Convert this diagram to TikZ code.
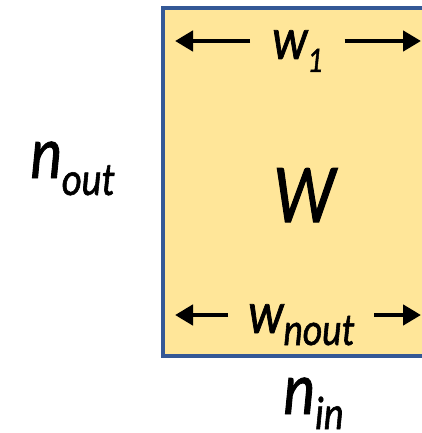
\documentclass[tikz,border=0pt]{standalone}
\usepackage{fontspec}
\setmainfont{Carlito}[FakeStretch=0.82, FakeBold=1.2]
\usetikzlibrary{arrows.meta}
\definecolor{matfill}{RGB}{255,230,153}
\definecolor{matedge}{RGB}{52,88,150}
\tikzset{
  matbox/.style={fill=matfill, draw=matedge, line width=3.6pt},
  lbl/.style={inner sep=0pt, font=\itshape},
  dimlbl/.style={inner ysep=0pt, inner xsep=22pt, font=\itshape},
  dimarr/.style={-{Triangle[length=18pt,width=20pt]}, line width=4.4pt},
}
\newcommand{\fsz}[1]{\fontsize{#1}{#1}\selectfont}
\begin{document}
\begin{tikzpicture}[x=1pt, y=-1pt]
    \useasboundingbox (0,0) rectangle (421,433);
    % Weight matrix
    \draw[matbox] (163,8) rectangle (440,356);
    \node[lbl, anchor=base] (wmat) at (304,222) {\fsz{84}W};
    % Row labels with width arrows
    \node[dimlbl, anchor=base west] (wone) at (250,59)
      {\fsz{60}w\raisebox{-13pt}{\fsz{36}1}};
    \coordinate (wonel) at (175,41);
    \coordinate (woner) at (421,41);
    \draw[dimarr] (wonel -| wone.west) -- (wonel);
    \draw[dimarr] (woner -| wone.east) -- (woner);
    \node[dimlbl, anchor=base west, inner xsep=20pt] (wlast) at (228,333)
      {\fsz{60}w\raisebox{-12pt}{\fsz{46}nout}};
    \coordinate (wlastl) at (175,315);
    \coordinate (wlastr) at (421,315);
    \draw[dimarr] (wlastl -| wlast.west) -- (wlastl);
    \draw[dimarr] (wlastr -| wlast.east) -- (wlastr);
    % Dimensions
    \node[lbl, anchor=base west] (nout) at (30,178)
      {\fsz{75}n\raisebox{-17pt}{\fsz{47}out}};
    \node[lbl, anchor=base west] (nin) at (283,414)
      {\fsz{75}n\raisebox{-15pt}{\fsz{47}in}};
\end{tikzpicture}
\end{document}
